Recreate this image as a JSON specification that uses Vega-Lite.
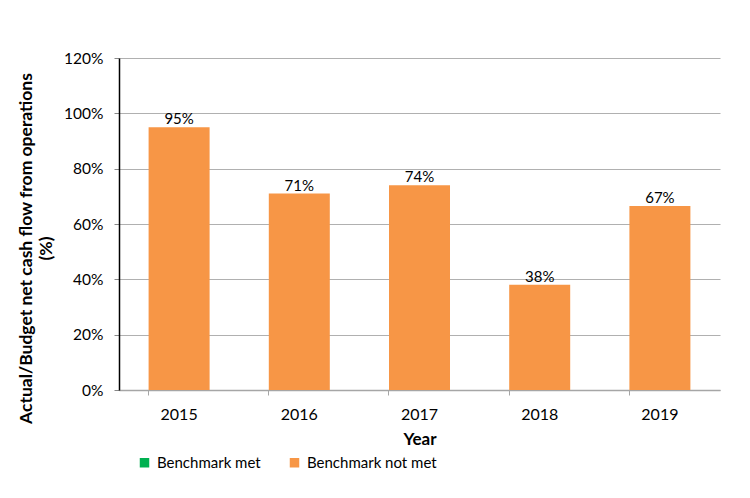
{
  "$schema": "https://vega.github.io/schema/vega-lite/v6.json",
  "width": 601,
  "height": 332,
  "autosize": {"type": "none"},
  "padding": {"left": 119, "top": 58, "right": 30, "bottom": 108},
  "background": "white",
  "config": {
    "font": "Lato",
    "view": {"stroke": null},
    "axis": {"labelFont": "Lato", "titleFont": "Lato"},
    "legend": {"labelFont": "Lato"}
  },
  "datasets": {
    "bars": [
      {"year": "2015", "value": 0.95, "label": "95%", "status": "Benchmark not met"},
      {"year": "2016", "value": 0.71, "label": "71%", "status": "Benchmark not met"},
      {"year": "2017", "value": 0.74, "label": "74%", "status": "Benchmark not met"},
      {"year": "2018", "value": 0.38, "label": "38%", "status": "Benchmark not met"},
      {"year": "2019", "value": 0.665, "label": "67%", "status": "Benchmark not met"}
    ]
  },
  "layer": [
    {
      "data": {"name": "bars"},
      "mark": {"type": "bar", "width": 61},
      "encoding": {
        "x": {
          "field": "year", "type": "ordinal", "title": "Year",
          "scale": {"paddingInner": 0.49, "paddingOuter": 0.245},
          "axis": {
            "labelAngle": 0, "labelFontSize": 16, "labelColor": "#000000",
            "labelPadding": 11, "bandPosition": 0, "tickColor": "#a6a6a6",
            "tickSize": 5, "domainColor": "#a6a6a6", "domainWidth": 1.5,
            "titleFontSize": 17, "titleFontWeight": "bold", "titleColor": "#000000",
            "titlePadding": 9
          }
        },
        "y": {
          "field": "value", "type": "quantitative",
          "title": ["Actual/Budget net cash flow from operations", "(%)"],
          "scale": {"domain": [0, 1.2]},
          "axis": {
            "values": [0, 0.2, 0.4, 0.6, 0.8, 1.0, 1.2], "format": ".0%",
            "labelFontSize": 15.5, "labelColor": "#000000", "labelPadding": 11,
            "tickSize": 5, "tickColor": "#888888", "domainColor": "#000000", "domainWidth": 1.5,
            "grid": true, "gridColor": "#b0b0b0", "gridWidth": 1.2,
            "titleFontSize": 17.5, "titleFontWeight": "bold", "titleColor": "#000000",
            "titleX": -84, "titleY": 190, "titleLineHeight": 20
          }
        },
        "color": {
          "field": "status", "type": "nominal", "title": null,
          "scale": {"domain": ["Benchmark met", "Benchmark not met"], "range": ["#00B050", "#F79646"]},
          "legend": {
            "orient": "none", "legendX": 18, "legendY": 397, "direction": "horizontal",
            "symbolType": "square", "symbolSize": 90, "symbolStrokeWidth": 0,
            "labelFontSize": 15, "labelColor": "#000000", "columnPadding": 26, "labelOffset": 5
          }
        }
      }
    },
    {
      "data": {"name": "bars"},
      "mark": {"type": "text", "dy": -8, "fontSize": 15, "color": "#000000", "font": "Lato"},
      "encoding": {
        "x": {"field": "year", "type": "ordinal"},
        "y": {"field": "value", "type": "quantitative"},
        "text": {"field": "label"}
      }
    },
    {
      "mark": {"type": "rule", "color": "#000000", "strokeWidth": 2.5},
      "encoding": {"y": {"datum": 1.0, "type": "quantitative"}}
    }
  ]
}
